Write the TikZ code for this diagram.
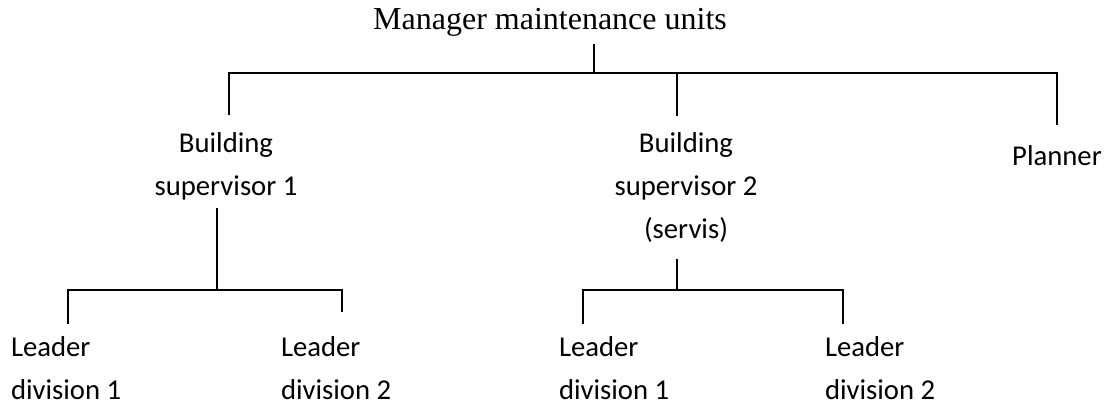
\documentclass[tikz,border=0pt]{standalone}
\usepackage{fontspec}
\setmainfont{Carlito}
\newfontfamily\timesfont{Liberation Serif}
\tikzset{l/.style={font=\fontsize{14.35}{21.5}\selectfont, inner sep=0pt, align=center}}
\tikzset{m/.style={font=\timesfont\fontsize{16}{16}\selectfont, inner sep=0pt}}
\tikzset{w/.style={l, align=left, anchor=west}}

\begin{document}
\begin{tikzpicture}[x=0.5pt,y=-0.5pt,line width=1pt]
  \useasboundingbox (0,0) rectangle (1110,407);
  % boxes
  \node[m] (mgr) at (550,22) {Manager maintenance units};
  \node[l] (sup1) at (226,166.5) {Building\\supervisor 1};
  \node[l] (sup2) at (686,188) {Building\\supervisor 2\\(servis)};
  \node[l] (plan) at (1057,156) {Planner};
  \node[w] (lead11) at (10,368) {Leader\\division 1};
  \node[w] (lead12) at (280,368) {Leader\\division 2};
  \node[w] (lead21) at (558,368) {Leader\\division 1};
  \node[w] (lead22) at (824,368) {Leader\\division 2};
  % top level
  \coordinate (m0) at (594,44);
  \coordinate (bl) at (229,73);
  \coordinate (bm) at (677,73);
  \coordinate (br) at (1057,73);
  \draw (m0) -- (m0 |- bl);
  \draw (229,115) -- (bl) -- (br) -- (1057,125);
  \draw (bm) -- (677,116);
  % supervisor 1
  \coordinate (s1) at (217,208);
  \coordinate (cl) at (68,290);
  \coordinate (cr) at (342,290);
  \draw (s1) -- (s1 |- cl);
  \draw (68,324) -- (cl) -- (cr) -- (342,312);
  % supervisor 2
  \coordinate (s2) at (677,259);
  \coordinate (dl) at (583,290);
  \coordinate (dr) at (843,290);
  \draw (s2) -- (s2 |- dl);
  \draw (583,324) -- (dl) -- (dr) -- (843,324);
\end{tikzpicture}
\end{document}
